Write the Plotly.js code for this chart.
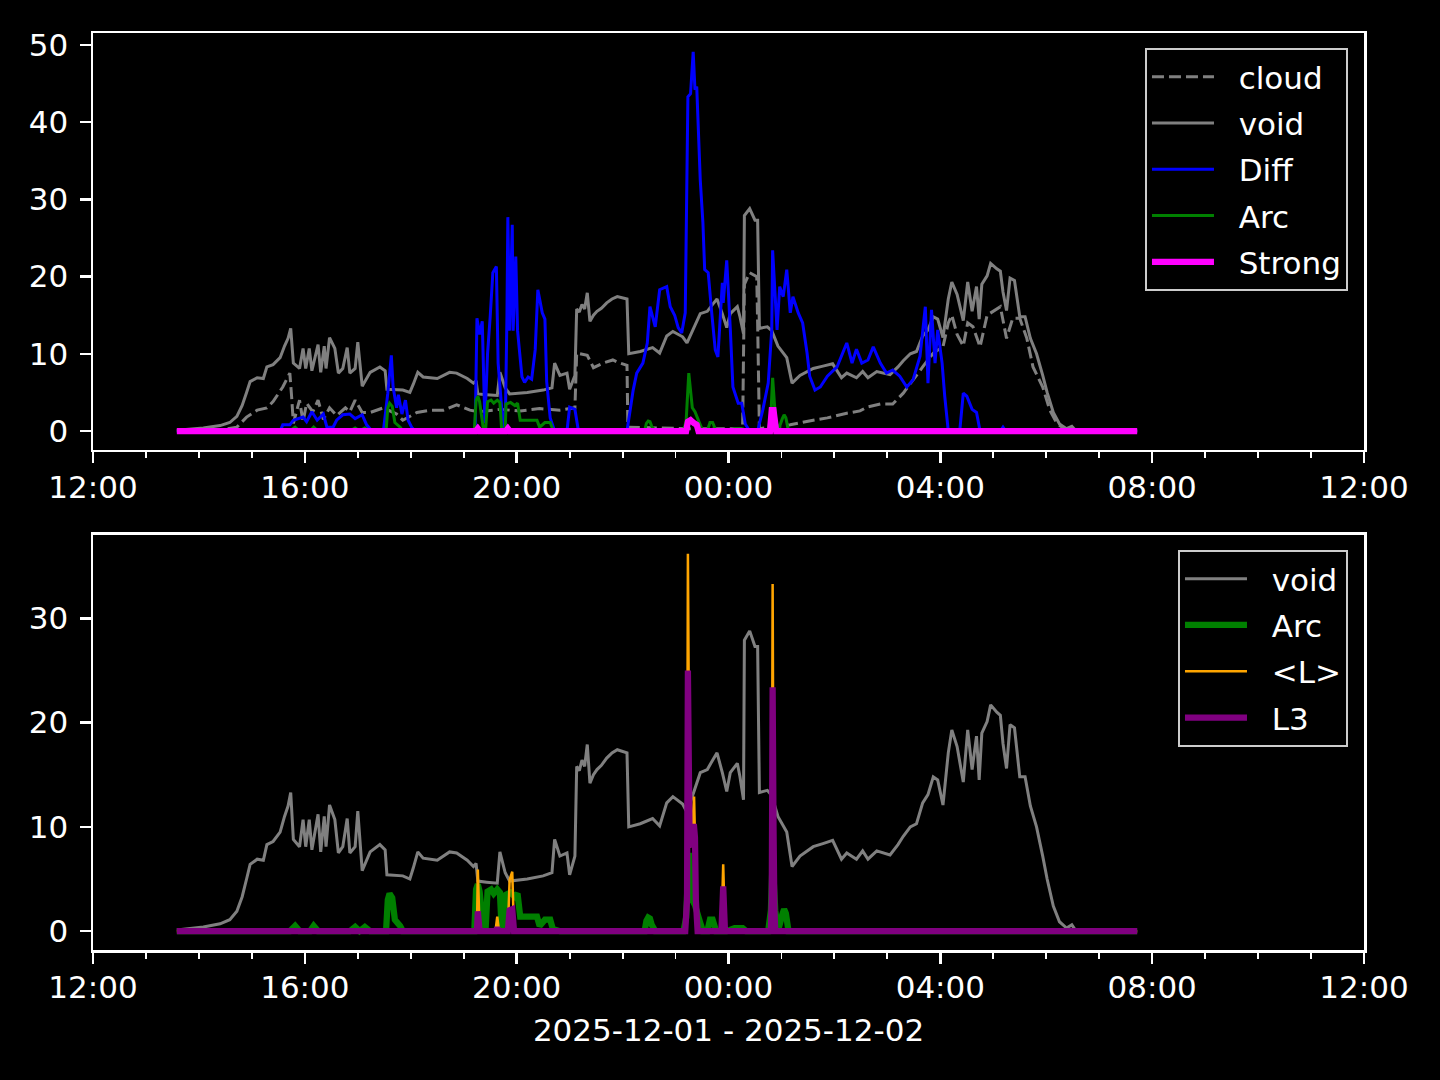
<!DOCTYPE html>
<html>
<head>
<meta charset="utf-8">
<script src="https://cdn.plot.ly/plotly-3.0.1.min.js"></script>
<style>html,body{margin:0;padding:0;background:#000;}#chart{width:1440px;height:1080px;}</style>
</head>
<body>
<div id="chart"></div>
<script>
// ---- data (clock times; hours >= 12 are on 2025-12-01, earlier on 2025-12-02) ----
const voidT = ["13:35","14:05","14:24","14:35","14:43","14:49","14:54","14:58","15:06","15:13","15:17","15:24","15:32","15:37","15:41","15:44","15:47","15:54","15:58","16:01","16:05","16:08","16:15","16:18","16:22","16:24","16:28","16:34","16:38","16:43","16:48","16:51","16:57","17:00","17:05","17:14","17:25","17:31","17:33","17:51","17:59","18:03","18:08","18:14","18:30","18:44","18:52","19:04","19:11","19:14","19:16","19:26","19:38","19:41","19:47","19:52","20:12","20:30","20:40","20:43","20:49","20:57","21:00","21:06","21:08","21:11","21:14","21:17","21:20","21:23","21:27","21:31","21:36","21:42","21:48","21:54","22:05","22:07","22:20","22:34","22:42","22:50","22:57","23:08","23:13","23:28","23:36","23:42","23:47","23:53","23:58","00:02","00:10","00:13","00:17","00:18","00:24","00:30","00:33","00:35","00:44","00:49","00:56","01:06","01:12","01:21","01:36","01:47","01:58","02:08","02:14","02:25","02:32","02:38","02:48","03:03","03:12","03:18","03:26","03:33","03:40","03:46","03:52","03:57","04:03","04:09","04:13","04:19","04:26","04:31","04:36","04:41","04:44","04:47","04:53","04:57","05:04","05:08","05:11","05:15","05:19","05:24","05:30","05:36","05:42","05:49","05:56","06:01","06:08","06:15","06:23","06:29","06:33","06:40","07:43"];
const voidV = [0.1,0.4,0.7,1.1,1.9,3.3,5.0,6.4,6.9,6.8,8.3,8.6,9.5,11.0,12.0,13.3,8.8,8.1,10.7,8.1,10.7,7.8,11.2,7.6,11.0,8.1,12.1,10.7,7.5,8.1,10.8,7.5,8.1,11.5,5.8,7.6,8.3,7.8,5.4,5.3,5.0,6.1,7.6,7.0,6.8,7.6,7.5,6.8,6.2,6.5,4.8,4.7,4.6,7.6,5.6,4.8,5.0,5.3,5.6,8.8,7.2,7.5,5.4,7.2,15.8,15.4,16.4,15.8,17.9,14.2,15.0,15.5,15.9,16.6,17.1,17.4,17.1,10.0,10.3,10.8,10.1,12.3,12.9,12.2,11.4,15.2,15.5,16.4,17.1,15.2,13.4,15.2,16.1,14.8,12.6,27.9,28.8,27.3,27.3,13.3,13.5,13.0,11.0,9.5,6.2,7.2,8.1,8.4,8.7,6.9,7.5,6.9,7.7,6.9,7.7,7.3,8.3,9.1,10.0,10.3,12.3,13.1,14.8,14.5,12.1,17.1,19.3,17.7,14.3,19.3,15.5,18.7,14.5,19.0,20.1,21.7,21.0,20.7,18.0,15.6,19.8,19.5,14.8,14.8,12.0,10.0,7.2,5.0,2.4,0.9,0.3,0.6,0.1,0,0];

const cloudT = ["13:35","14:24","14:43","14:54","15:06","15:17","15:24","15:35","15:43","15:45","15:47","15:54","15:58","16:02","16:09","16:15","16:21","16:28","16:36","16:46","16:51","16:57","17:05","17:14","17:29","17:44","17:51","18:07","18:22","18:37","18:52","19:07","19:16","19:41","20:04","20:26","20:49","21:06","21:08","21:20","21:27","21:38","21:49","21:57","22:05","22:06","23:13","00:16","00:18","00:24","00:32","00:33","00:35","01:10","01:36","01:52","02:14","02:29","02:37","02:52","03:06","03:18","03:29","03:40","03:52","04:03","04:09","04:13","04:19","04:26","04:31","04:37","04:45","04:53","05:08","05:15","05:22","05:30","05:38","05:45","05:56","06:04","06:12","06:19","06:27","07:43"];
const cloudV = [0,0.1,0.5,1.8,2.7,3.0,3.8,5.7,7.5,4.5,1.0,4.0,1.2,3.6,2.5,4.0,1.5,3.0,2.0,3.0,2.5,4.0,2.4,2.4,3.0,2.2,1.4,2.4,2.7,2.7,3.4,2.7,2.5,2.8,2.6,2.9,2.7,3.0,10.1,9.8,8.2,8.8,9.2,8.8,8.5,0.5,0.3,0.3,19.0,20.5,20.0,14.0,0.3,0.8,1.4,1.7,2.3,2.6,3.1,3.5,3.5,4.9,6.6,8.3,10.1,10.9,14.0,15.0,12.5,11.0,14.0,13.5,10.9,15.0,16.1,12.0,14.6,14.6,12.0,8.3,5.7,2.7,1.0,0.4,0,0];

const diffT = ["13:35","15:32","15:35","15:43","15:47","15:58","16:02","16:08","16:14","16:21","16:25","16:32","16:36","16:43","16:51","16:57","17:05","17:10","17:16","17:29","17:34","17:38","17:40","17:44","17:46","17:50","17:54","17:57","18:01","18:05","19:13","19:15","19:18","19:21","19:24","19:27","19:30","19:33","19:37","19:39","19:43","19:47","19:49","19:50","19:52","19:55","19:56","19:59","20:01","20:06","20:09","20:13","20:17","20:21","20:24","20:29","20:32","20:34","20:38","20:43","20:57","21:00","21:06","21:10","22:05","22:12","22:16","22:23","22:28","22:31","22:37","22:42","22:50","22:54","22:59","23:03","23:07","23:11","23:14","23:17","23:20","23:22","23:24","23:28","23:31","23:33","23:37","23:41","23:45","23:48","23:53","23:54","23:58","00:02","00:05","00:11","00:15","00:19","00:24","00:33","00:39","00:45","00:49","00:50","00:55","00:58","01:02","01:06","01:10","01:13","01:19","01:24","01:29","01:32","01:38","01:44","01:52","02:03","02:14","02:20","02:25","02:31","02:38","02:44","02:52","02:59","03:06","03:14","03:22","03:29","03:37","03:43","03:46","03:50","03:54","03:57","04:02","04:05","04:09","04:22","04:26","04:30","04:36","04:41","04:45","05:08","05:11","05:14","07:43"];
const diffV = [0,0,0.8,0.8,1.4,1.8,1.2,2.5,1.4,2.2,0.5,0.5,1.4,2.1,2.2,1.6,2.1,0.8,0,0,4.9,9.8,5.7,3.0,4.7,2.2,4.0,1.4,0.5,0,0,14.6,12.5,14.2,1.0,10.0,14.8,20.5,21.3,8.8,3.0,0,15.0,27.7,13.0,26.7,13.0,22.6,13.0,7.0,6.3,7.0,6.7,10.5,18.3,15.3,14.5,6.4,1.7,0,0,3.1,2.8,0,0,5.3,7.5,8.8,11.4,16.1,13.5,18.3,18.7,16.1,15.0,13.4,12.7,15.3,43.3,43.7,49.1,44.2,44.6,32.5,27.0,20.9,20.5,15.3,10.5,9.6,19.2,16.6,22.1,13.3,5.7,3.6,3.6,0.9,0,0,2.8,6.2,13.1,23.4,13.1,18.7,17.4,20.9,15.3,17.4,15.3,14.0,10.1,7.1,5.3,5.7,7.1,8.3,11.4,8.8,10.6,8.8,9.2,10.9,8.8,7.5,7.9,7.1,5.7,6.6,9.7,16.1,6.2,15.7,8.8,13.1,8.8,4.5,0,0,4.9,4.5,2.8,2.4,0,0,0.5,0,0];

const arcT = ["13:35","15:43","15:49","15:54","16:06","16:10","16:15","16:51","16:57","17:02","17:08","17:14","17:32","17:34","17:36","17:39","17:42","17:48","17:51","19:12","19:14","19:16","19:18","19:22","19:25","19:27","19:31","19:34","19:38","19:41","19:43","19:47","19:48","19:53","19:58","20:01","20:04","20:23","20:26","20:32","20:38","20:41","20:49","22:25","22:27","22:29","22:31","22:33","22:37","23:09","23:12","23:15","23:19","23:22","23:28","23:31","23:36","23:39","23:42","23:46","23:58","00:07","00:16","00:20","00:45","00:48","00:50","00:53","00:56","01:01","01:03","01:05","01:08","07:43"];
const arcV = [0,0,0.5,0,0,0.5,0,0,0.4,0,0.4,0,0,3.0,3.6,3.2,1.1,0.5,0,0,4.0,4.5,3.8,0.5,0.5,3.8,4.0,3.6,4.0,3.7,0.2,0.2,3.5,3.7,3.3,3.6,1.4,1.4,0.5,1.1,1.1,0.2,0,0,1.0,1.3,1.2,0.6,0,0,1.3,7.5,3.0,2.5,0.8,0,0,1.1,1.1,0,0,0.3,0.3,0,0,2.0,6.9,2.0,0,1.6,2.1,1.7,0,0];

const strongT = ["13:35","19:14","19:16","19:18","19:48","19:50","19:52","23:12","23:14","23:17","23:21","23:24","23:26","00:47","00:49","00:51","00:54","07:43"];
const strongV = [0,0,0.3,0,0,0.3,0,0,1.2,1.4,1.0,0.8,0,0,2.7,2.7,0,0];

const lT = ["13:35","19:15","19:16","19:18","19:36","19:38","19:40","19:50","19:52","19:55","19:57","23:11","23:13","23:14","23:16","23:17","23:19","23:21","23:22","23:23","23:25","23:52","23:54","23:56","00:48","00:49","00:50","00:51","00:52","00:53","07:43"];
const lV = [0,0,5.9,0,0,1.4,0,0,4.9,5.7,0,0,3,36.2,8,10,10,12.9,9,3,0,0,6.4,0,0,3,33.3,10,2,0,0];

const l3T = ["13:35","19:15","19:16","19:18","19:36","19:38","19:40","19:50","19:52","19:55","19:57","23:11","23:13","23:14","23:16","23:17","23:19","23:21","23:22","23:23","23:25","23:52","23:54","23:56","00:48","00:49","00:50","00:51","00:52","00:53","07:43"];
const l3V = [0,0,1.9,0,0,0.3,0,0,2.0,2.1,0,0,3,25.0,8,10,10,10,9,3,0,0,4.3,0,0,3,23.4,10,2,0,0];

const xTitle = "2025-12-01 - 2025-12-02";
const xStart = "2025-12-01 12:00";
const xEnd = "2025-12-02 12:00";

// ---- helpers ----
function toDate(hm) {
  const h = parseInt(hm.split(":")[0], 10);
  return (h >= 12 ? "2025-12-01 " : "2025-12-02 ") + hm;
}
const D = a => a.map(toDate);

const FONT = "DejaVu Sans, Liberation Sans, sans-serif";
const GRAY = "#808080";
const FS = 31;
const PAD = "\u00a0\u00a0";

function tr(name, t, v, color, width, ax, leg, dash) {
  return {
    type: "scatter", mode: "lines", name: PAD + name,
    x: D(t), y: v,
    line: {color: color, width: width, dash: dash || "solid", simplify: false},
    xaxis: ax[0], yaxis: ax[1], legend: leg, legendgroup: leg + name,
    hoverinfo: "skip"
  };
}

const axTop = ["x", "y"], axBot = ["x2", "y2"];
const traces = [
  tr("cloud", cloudT, cloudV, GRAY, 3, axTop, "legend", "12px,5px"),
  tr("void", voidT, voidV, GRAY, 3, axTop, "legend"),
  tr("Diff", diffT, diffV, "#0000ff", 3, axTop, "legend"),
  tr("Arc", arcT, arcV, "#008000", 3, axTop, "legend"),
  tr("Strong", strongT, strongV, "#ff00ff", 6.25, axTop, "legend"),
  tr("void", voidT, voidV, GRAY, 3, axBot, "legend2"),
  tr("Arc", arcT, arcV, "#008000", 6.25, axBot, "legend2"),
  tr("<L>", lT, lV, "#ffa500", 2.5, axBot, "legend2"),
  tr("L3", l3T, l3V, "#800080", 6.25, axBot, "legend2")
];

function mkX(anchor, title) {
  const a = {
    type: "date", anchor: anchor, domain: [0, 1],
    range: [xStart, xEnd], tickformat: "%H:%M",
    tick0: "2025-12-01 00:00", dtick: 4 * 3600000,
    ticks: "outside", ticklen: 11, tickwidth: 2.5, tickcolor: "#ffffff",
    showline: true, linecolor: "#ffffff", linewidth: 2.5, mirror: true,
    showgrid: false, zeroline: false, ticklabelstandoff: -3,
    tickfont: {family: FONT, size: FS, color: "#ffffff"},
    minor: {dtick: 3600000, tick0: "2025-12-01 00:00", ticks: "outside", ticklen: 6, tickwidth: 1.9, tickcolor: "#ffffff", showgrid: false}
  };
  if (title) a.title = {text: title, font: {family: FONT, size: FS, color: "#ffffff"}, standoff: 16};
  return a;
}
function mkY(anchor, domain, range, dtick) {
  return {
    anchor: anchor, domain: domain, range: range, dtick: dtick, tick0: 0,
    ticks: "outside", ticklen: 11, tickwidth: 2.5, tickcolor: "#ffffff",
    showline: true, linecolor: "#ffffff", linewidth: 2.5, mirror: true,
    showgrid: false, zeroline: false, ticklabelstandoff: 5,
    tickfont: {family: FONT, size: FS, color: "#ffffff"}
  };
}
function mkLegend(y) {
  return {
    x: 0.9874, y: y, xanchor: "right", yanchor: "top",
    bgcolor: "#000000", bordercolor: "#cccccc", borderwidth: 2,
    font: {family: FONT, size: FS, color: "#ffffff"},
    itemwidth: 62, tracegroupgap: 3, traceorder: "grouped"
  };
}

const layout = {
  width: 1440, height: 1080,
  paper_bgcolor: "#000000", plot_bgcolor: "#000000",
  margin: {l: 93, r: 76, t: 33, b: 130},
  font: {family: FONT, color: "#ffffff", size: FS},
  showlegend: true,
  xaxis: mkX("y"),
  yaxis: mkY("x", [0.5453, 1], [-2.455, 51.55], 10),
  xaxis2: mkX("y2", xTitle),
  yaxis2: mkY("x2", [0, 0.4526], [-1.81, 38.0], 10),
  legend: mkLegend(0.9836),
  legend2: mkLegend(0.4362)
};

Plotly.newPlot("chart", traces, layout, {staticPlot: true, displayModeBar: false});
</script>
</body>
</html>
